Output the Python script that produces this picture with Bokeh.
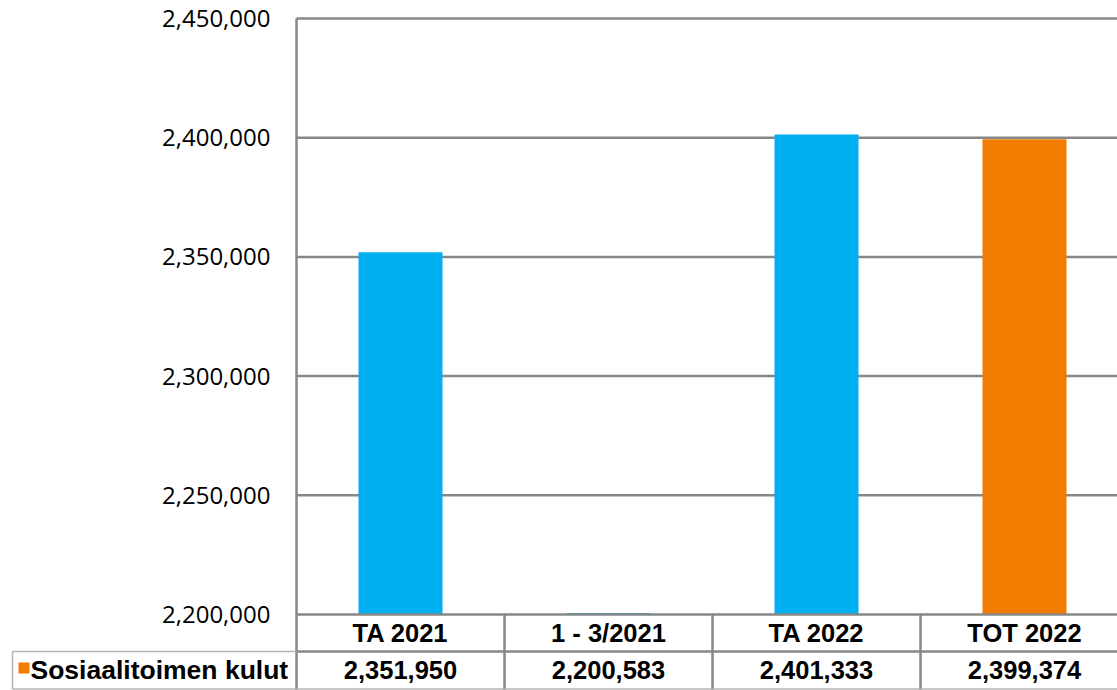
from bokeh.plotting import figure
from bokeh.models import Range1d
from bokeh.core.properties import value
from bokeh.embed import file_html
from bokeh.resources import INLINE

categories = ["TA 2021", "1 - 3/2021", "TA 2022", "TOT 2022"]
values = [2351950, 2200583, 2401333, 2399374]
bar_colors = ["#00B0F0", "#00B0F0", "#00B0F0", "#F07D00"]
series_name = "Sosiaalitoimen kulut"
y_ticks = [2200000, 2250000, 2300000, 2350000, 2400000, 2450000]
y_tick_labels = [f"{v:,}" for v in y_ticks]

W, H = 1117, 690
AXIS_PX = 296                    # pixel column of the value axis
COL = 208.0                      # pixel width of one category column
Y0_PX, Y1_PX = 614, 18           # pixel rows of first and last tick
GRID = "#878787"
LIGHT = "#b4b4b4"
FONT_TAB = "Liberation Sans"
TAB_SIZE = "25.5px"


def y_at(px):
    return y_ticks[0] + (Y0_PX - px) * (y_ticks[-1] - y_ticks[0]) / (Y0_PX - Y1_PX)


def x_at(px):
    return (px - AXIS_PX) / COL


x_end = x_at(W)
xs = [i + 0.5 for i in range(len(categories))]

p = figure(width=W, height=H, x_range=Range1d(x_at(0), x_end),
           y_range=Range1d(y_at(H), y_at(0)),
           x_axis_type=None, y_axis_type=None,
           output_backend="svg", toolbar_location=None, min_border=0)
p.outline_line_color = None
p.xgrid.grid_line_color = None
p.ygrid.grid_line_color = None

# horizontal gridlines (behind the bars) and value axis labels
upper = y_ticks[1:]
p.segment(x0=[0] * len(upper), y0=upper, x1=[x_end] * len(upper), y1=upper,
          line_color=GRID, line_width=2.5)
p.text(x=[x_at(270)] * len(y_ticks), y=y_ticks, text=y_tick_labels,
       text_align="right", text_baseline="middle",
       text_font=value("Open Sans"), text_font_size="24px", text_color="#000000")

# bars
p.vbar(x=xs, top=values, bottom=y_ticks[0], width=84 / COL,
       fill_color=bar_colors, line_color=None)

# category axis line (on top of the bars) and value axis line
p.segment(x0=[0], y0=[y_ticks[0]], x1=[x_end], y1=[y_ticks[0]],
          line_color=GRID, line_width=2.5)
p.segment(x0=[0], y0=[y_ticks[-1]], x1=[0], y1=[y_at(H)],
          line_color=GRID, line_width=2.5)

# ---- data table ----
y_row = y_at(651)
y_bot = y_at(688.5)
p.segment(x0=[1, 2, 3], y0=[y_ticks[0]] * 3, x1=[1, 2, 3], y1=[y_at(H)] * 3,
          line_color=GRID, line_width=2.5)
p.segment(x0=[0], y0=[y_row], x1=[x_end], y1=[y_row],
          line_color=GRID, line_width=2.5)
# light borders: legend cell and bottom edge
p.segment(x0=[x_at(12), x_at(12), x_at(12)], y0=[y_row, y_row, y_bot],
          x1=[x_at(12), 0, x_end], y1=[y_bot, y_row, y_bot],
          line_color=LIGHT, line_width=1.5)

p.text(x=xs, y=[y_at(632.5)] * 4, text=categories,
       text_align="center", text_baseline="middle",
       text_font=value(FONT_TAB), text_font_style="bold",
       text_font_size=TAB_SIZE, text_color="#000000")
p.text(x=xs, y=[y_at(669.5)] * 4, text=[f"{v:,}" for v in values],
       text_align="center", text_baseline="middle",
       text_font=value(FONT_TAB), text_font_style="bold",
       text_font_size=TAB_SIZE, text_color="#000000")

# legend key and series name
p.scatter(x=[x_at(23.5)], y=[y_at(667.5)], marker="square", size=11,
          fill_color=bar_colors[-1], line_color=None)
p.text(x=[x_at(30)], y=[y_at(669.5)], text=[series_name],
       text_align="left", text_baseline="middle",
       text_font=value(FONT_TAB), text_font_style="bold",
       text_font_size="26.5px", text_color="#000000")

open("out.html", "w").write(file_html(p, INLINE))
